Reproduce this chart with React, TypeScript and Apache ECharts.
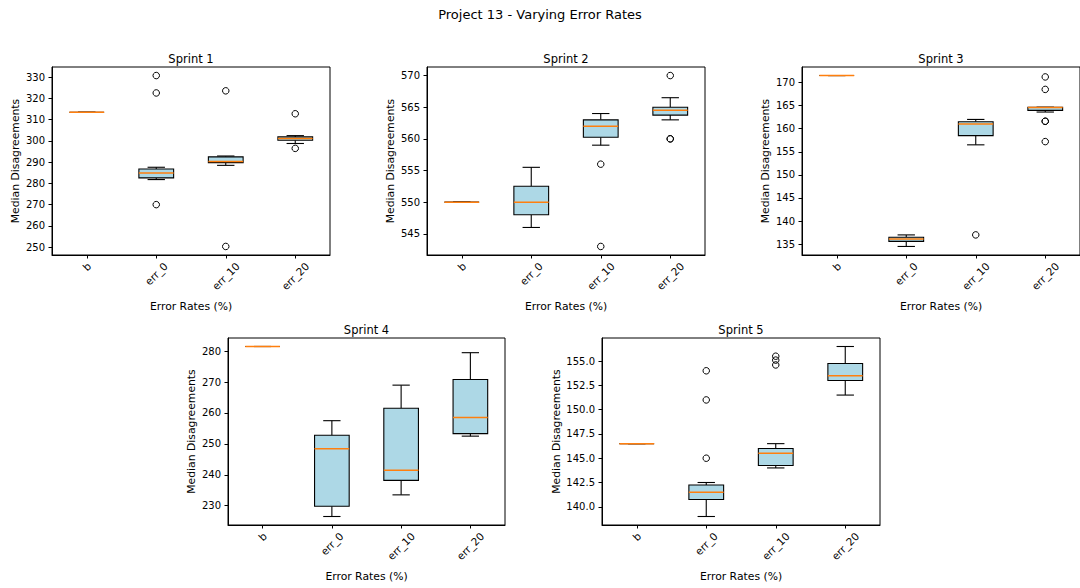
import React, { useEffect, useRef } from 'react';
import * as echarts from 'echarts';

const FONT = '"DejaVu Sans", sans-serif';

const suptitle = 'Project 13 - Varying Error Rates';
const categories = ['b', 'err_0', 'err_10', 'err_20'];
const sprintNames = ['Sprint 1', 'Sprint 2', 'Sprint 3', 'Sprint 4', 'Sprint 5'];
const xAxisName = 'Error Rates (%)';
const yAxisName = 'Median Disagreements';

// box statistics per category: [whiskerLow, q1, median, q3, whiskerHigh]
const sprint1Stats = [
  [313.5, 313.5, 313.5, 313.5, 313.5],
  [281.8, 282.6, 284.9, 286.8, 287.6],
  [288.5, 289.8, 290.3, 292.5, 292.9],
  [298.8, 300.3, 301.1, 301.9, 302.5],
];
const sprint2Stats = [
  [550.0, 550.0, 550.0, 550.0, 550.0],
  [546.0, 548.0, 550.0, 552.5, 555.5],
  [559.0, 560.25, 562.0, 563.0, 564.0],
  [563.0, 563.75, 564.5, 565.0, 566.5],
];
const sprint3Stats = [
  [171.5, 171.5, 171.5, 171.5, 171.5],
  [134.5, 135.6, 136.1, 136.5, 137.0],
  [156.5, 158.5, 161.0, 161.5, 162.0],
  [163.6, 163.95, 164.6, 164.65, 164.65],
];
const sprint4Stats = [
  [281.5, 281.5, 281.5, 281.5, 281.5],
  [226.5, 229.8, 248.4, 252.8, 257.5],
  [233.5, 238.2, 241.5, 261.5, 269.0],
  [252.5, 253.3, 258.5, 270.8, 279.5],
];
const sprint5Stats = [
  [146.5, 146.5, 146.5, 146.5, 146.5],
  [139.0, 140.75, 141.5, 142.25, 142.5],
  [144.0, 144.25, 145.5, 146.0, 146.5],
  [151.5, 153.0, 153.5, 154.75, 156.5],
];

// outliers: [categoryIndex, value]
const sprint1Outliers = [[1, 330.8], [1, 322.6], [1, 270.0], [2, 323.6], [2, 250.3], [3, 312.8], [3, 296.5]];
const sprint2Outliers = [[2, 556.0], [2, 543.0], [3, 570.0], [3, 560.0], [3, 560.0]];
const sprint3Outliers = [[2, 137.0], [3, 171.2], [3, 168.5], [3, 161.6], [3, 161.6], [3, 157.2]];
const sprint4Outliers: number[][] = [];
const sprint5Outliers = [[1, 154.0], [1, 151.0], [1, 145.0], [2, 155.5], [2, 155.1], [2, 154.6]];

// y tick labels
const sprint1Ticks = [250, 260, 270, 280, 290, 300, 310, 320, 330];
const sprint2Ticks = [545, 550, 555, 560, 565, 570];
const sprint3Ticks = [135, 140, 145, 150, 155, 160, 165, 170];
const sprint4Ticks = [230, 240, 250, 260, 270, 280];
const sprint5Ticks = [140.0, 142.5, 145.0, 147.5, 150.0, 152.5, 155.0];
const tickDecimals = [0, 0, 0, 0, 1];

const allStats = [sprint1Stats, sprint2Stats, sprint3Stats, sprint4Stats, sprint5Stats];
const allOutliers = [sprint1Outliers, sprint2Outliers, sprint3Outliers, sprint4Outliers, sprint5Outliers];
const allTicks = [sprint1Ticks, sprint2Ticks, sprint3Ticks, sprint4Ticks, sprint5Ticks];

// layout
const grids = [
  { left: 52, top: 67, width: 278, height: 188 },
  { left: 427, top: 67, width: 278, height: 188 },
  { left: 802, top: 67, width: 278, height: 188 },
  { left: 228, top: 338, width: 277, height: 187 },
  { left: 602, top: 338, width: 278, height: 187 },
];
const yNameGaps = [31, 31, 31, 31, 40];

const TICK_FS = 10;
const XTICK_FS = 10.5;
const NAME_FS = 10.8;
const TITLE_FS = 11.5;
const SUP_FS = 13;

export default function App() {
  const ref = useRef<HTMLDivElement>(null);
  useEffect(() => {
    const chart = echarts.init(ref.current!, null, { renderer: 'svg' });

    const ctx = document.createElement('canvas').getContext('2d')!;
    ctx.font = `${XTICK_FS}px "DejaVu Sans"`;
    const rich: any = {};
    categories.forEach((c, i) => {
      const w = ctx.measureText(c).width;
      const h = XTICK_FS * 1.15;
      const p = (w + h) / 2;
      rich['c' + i] = { fontSize: XTICK_FS, fontFamily: FONT, color: '#000', padding: [p, p, 0, 0] };
    });

    const xAxes: any[] = [];
    const yAxes: any[] = [];
    const series: any[] = [];
    const graphics: any[] = [
      {
        type: 'text',
        x: 540,
        y: 14,
        style: { text: suptitle, font: `${SUP_FS}px ${FONT}`, fill: '#000', align: 'center', verticalAlign: 'middle' },
      },
    ];

    grids.forEach((g, i) => {
      const stats = allStats[i];
      const outs = allOutliers[i];
      const vals: number[] = [];
      stats.forEach((s) => vals.push(...s));
      outs.forEach((o) => vals.push(o[1]));
      const lo = Math.min(...vals);
      const hi = Math.max(...vals);
      const pad = (hi - lo) * 0.05;
      const dec = tickDecimals[i];

      xAxes.push({
        type: 'category',
        gridIndex: i,
        data: categories,
        boundaryGap: true,
        name: xAxisName,
        nameLocation: 'middle',
        nameGap: 46,
        nameTextStyle: { fontSize: NAME_FS, fontFamily: FONT, color: '#000' },
        axisLine: { show: true, lineStyle: { color: '#000', width: 1 } },
        axisTick: { show: true, alignWithLabel: true, length: 3.5, lineStyle: { color: '#000', width: 1 } },
        axisLabel: {
          interval: 0,
          rotate: 45,
          margin: 5,
          align: 'center',
          verticalAlign: 'middle',
          fontSize: XTICK_FS,
          fontFamily: FONT,
          color: '#000',
          formatter: (v: string, idx: number) => `{c${idx}|${v}}`,
          rich,
        },
        splitLine: { show: false },
      });
      yAxes.push({
        type: 'value',
        gridIndex: i,
        min: lo - pad,
        max: hi + pad,
        name: yAxisName,
        nameLocation: 'middle',
        nameGap: yNameGaps[i],
        nameTextStyle: { fontSize: NAME_FS, fontFamily: FONT, color: '#000' },
        axisLine: { show: true, lineStyle: { color: '#000', width: 1 } },
        axisTick: { show: true, length: 3.5, customValues: allTicks[i], lineStyle: { color: '#000', width: 1 } },
        axisLabel: {
          customValues: allTicks[i],
          margin: 7,
          fontSize: TICK_FS,
          fontFamily: FONT,
          color: '#000',
          formatter: (v: number) => v.toFixed(dec),
        },
        splitLine: { show: false },
      });

      series.push({
        type: 'custom',
        xAxisIndex: i,
        yAxisIndex: i,
        data: stats.map((s, k) => [k, ...s]),
        encode: { x: 0, y: [1, 2, 3, 4, 5] },
        renderItem: (params: any, api: any) => {
          const x = api.value(0);
          const low = api.coord([x, api.value(1)]);
          const q1 = api.coord([x, api.value(2)]);
          const med = api.coord([x, api.value(3)]);
          const q3 = api.coord([x, api.value(4)]);
          const high = api.coord([x, api.value(5)]);
          const bw = api.size([1, 0])[0] * 0.5;
          const cx = low[0];
          const half = bw / 2;
          const cap = bw / 4;
          const black = { stroke: '#000', lineWidth: 1.1 };
          return {
            type: 'group',
            children: [
              { type: 'line', shape: { x1: cx, y1: q1[1], x2: cx, y2: low[1] }, style: black },
              { type: 'line', shape: { x1: cx, y1: q3[1], x2: cx, y2: high[1] }, style: black },
              { type: 'line', shape: { x1: cx - cap, y1: low[1], x2: cx + cap, y2: low[1] }, style: black },
              { type: 'line', shape: { x1: cx - cap, y1: high[1], x2: cx + cap, y2: high[1] }, style: black },
              {
                type: 'rect',
                shape: { x: cx - half, y: q3[1], width: bw, height: q1[1] - q3[1] },
                style: { fill: '#add8e6', stroke: '#000', lineWidth: 1.1 },
              },
              {
                type: 'line',
                shape: { x1: cx - half, y1: med[1], x2: cx + half, y2: med[1] },
                style: { stroke: '#ff7f0e', lineWidth: 1.5 },
              },
            ],
          };
        },
      });
      series.push({
        type: 'scatter',
        xAxisIndex: i,
        yAxisIndex: i,
        data: outs,
        symbol: 'circle',
        symbolSize: 6.5,
        itemStyle: { color: 'rgba(0,0,0,0)', borderColor: '#000', borderWidth: 1, opacity: 1 },
      });

      graphics.push({
        type: 'text',
        x: g.left + g.width / 2,
        y: g.top - 8,
        style: { text: sprintNames[i], font: `${TITLE_FS}px ${FONT}`, fill: '#000', align: 'center', verticalAlign: 'middle' },
      });
    });

    chart.setOption({
      animation: false,
      backgroundColor: '#fff',
      grid: grids.map((g) => ({ ...g, show: true, borderColor: '#000', borderWidth: 1, backgroundColor: '#fff', containLabel: false })),
      xAxis: xAxes,
      yAxis: yAxes,
      series,
      graphic: graphics,
    });
    return () => chart.dispose();
  }, []);
  return (
    <div
      ref={ref}
      style={{ position: 'fixed', left: 0, top: 0, width: 1080, height: 588, background: '#fff' }}
    />
  );
}
